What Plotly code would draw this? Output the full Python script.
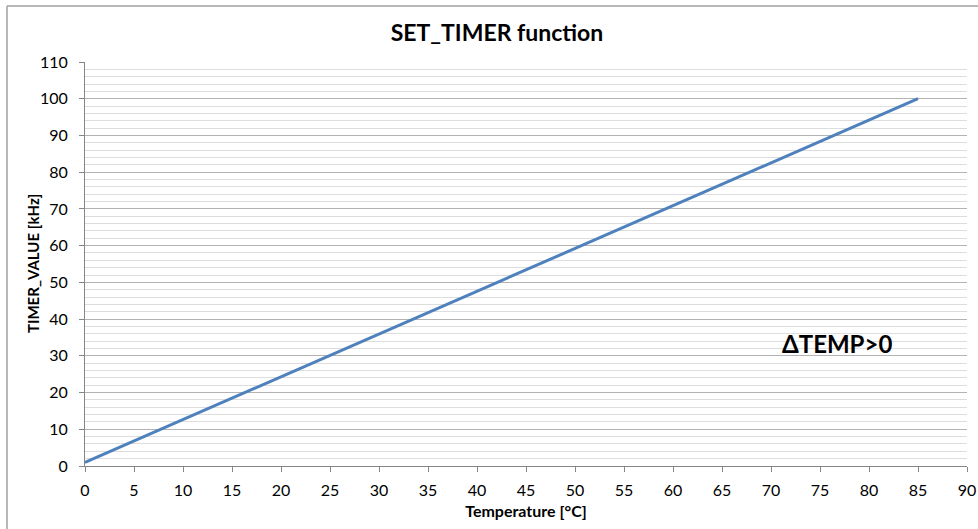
import plotly.graph_objects as go

temperature = [0, 85]
timer_value = [1, 100]
x_ticks = list(range(0, 91, 5))
y_ticks = list(range(0, 111, 10))

W, H = 978, 529
L, R, T, B = 85, 11, 62, 63
pw, ph = W - L - R, H - T - B

fig = go.Figure()
fig.add_trace(go.Scatter(x=temperature, y=timer_value, mode="lines",
                         line=dict(color="#4F81BD", width=3), showlegend=False,
                         hoverinfo="skip"))

font = "Lato, 'Open Sans', sans-serif"
fig.update_layout(
    width=W, height=H,
    margin=dict(l=L, r=R, t=T, b=B, autoexpand=False),
    paper_bgcolor="white", plot_bgcolor="white",
    font=dict(family=font, color="black"),
    title=dict(text="<b>SET_TIMER function</b>", x=497 / W, xanchor="center",
               y=1 - 33 / H, yanchor="middle", font=dict(size=23, family=font)),
    xaxis=dict(range=[0, 90], tickvals=x_ticks, ticks="outside", ticklen=5,
               tickcolor="#868686", showline=True, linecolor="#868686", linewidth=1,
               showgrid=False, zeroline=False, tickfont=dict(size=16),
               ticklabelstandoff=5, automargin=False,
               title=dict(text="<b>Temperature [°C]</b>", font=dict(size=16), standoff=7)),
    yaxis=dict(range=[0, 110], tickvals=y_ticks, ticks="outside", ticklen=5,
               tickcolor="#868686", showline=True, linecolor="#868686", linewidth=1,
               showgrid=True, gridcolor="#B3B3B3", gridwidth=1, zeroline=False,
               tickfont=dict(size=16), ticklabelstandoff=8, automargin=False,
               minor=dict(dtick=2, showgrid=True, gridcolor="#DDDDDD", gridwidth=1, ticks="")),
    annotations=[
        dict(text="<b>ΔTEMP>0</b>", x=(837 - L) / pw, y=(H - B - 343) / ph,
             xref="paper", yref="paper", showarrow=False,
             xanchor="center", yanchor="middle", font=dict(size=24, family=font)),
        dict(text="<b>TIMER_VALUE [kHz]</b>", x=(33 - L) / pw, y=(H - B - 264) / ph,
             xref="paper", yref="paper", showarrow=False, textangle=-90,
             xanchor="center", yanchor="middle", font=dict(size=15, family=font)),
    ],
    shapes=[
        dict(type="line", xref="paper", yref="paper", x0=(7 - L) / pw, x1=(W + 5 - L) / pw,
             y0=(H - B - 6) / ph, y1=(H - B - 6) / ph, line=dict(color="#A0A0A0", width=1.5)),
        dict(type="line", xref="paper", yref="paper", x0=(7 - L) / pw, x1=(7 - L) / pw,
             y0=(H - B - 6) / ph, y1=-(B + 5) / ph, line=dict(color="#A0A0A0", width=1.5)),
    ],
)
fig.write_html("out.html")
